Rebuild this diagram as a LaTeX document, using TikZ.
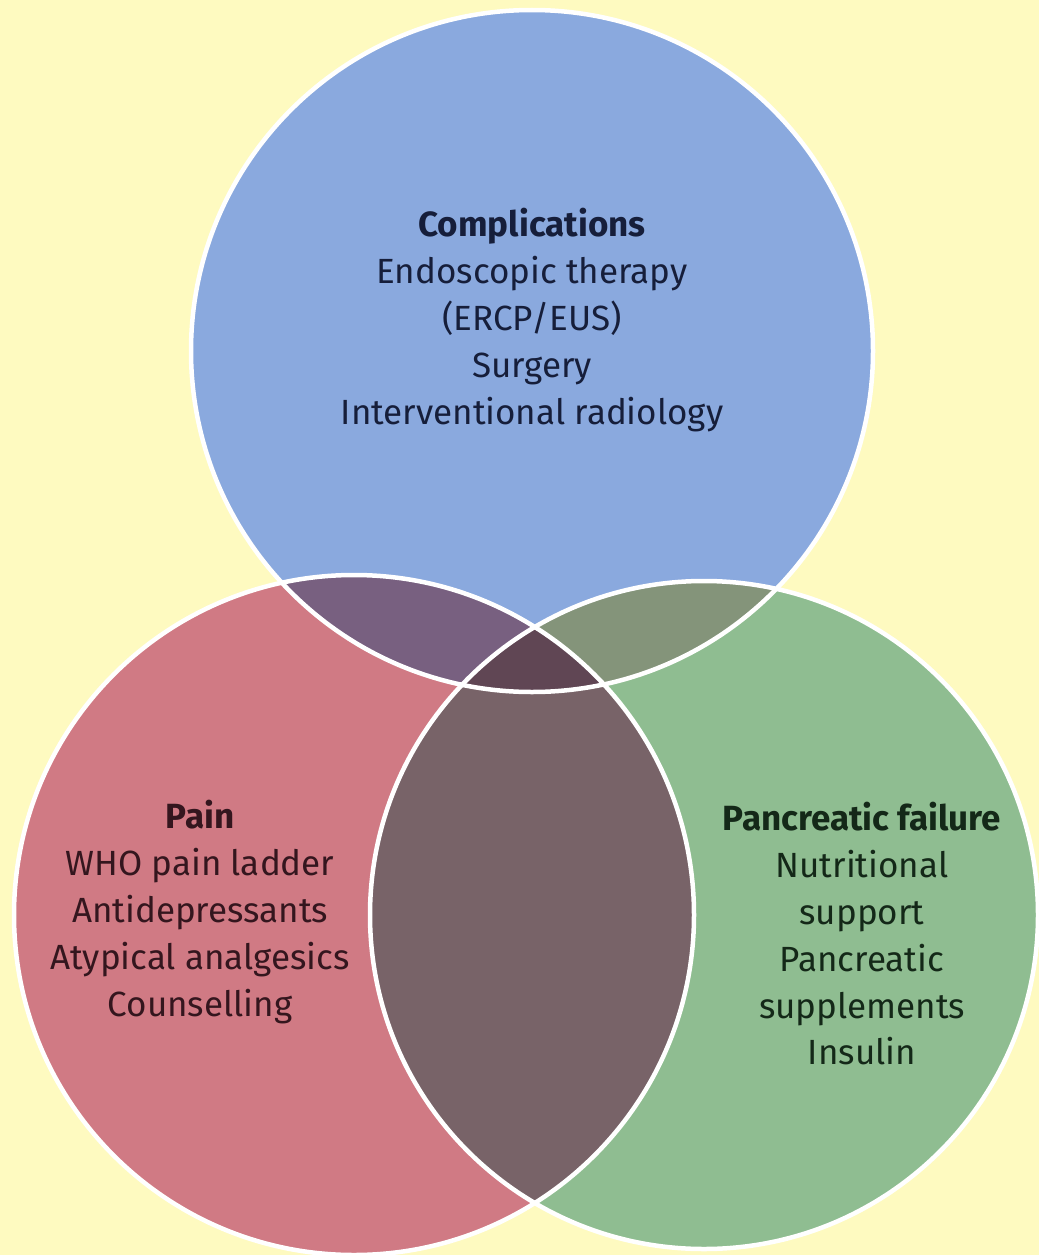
\documentclass[tikz,border=0pt]{standalone}
\usepackage{fontspec}
\setmainfont{Fira Sans}
\begin{document}
\begin{tikzpicture}[x=1pt,y=-1pt,
  lbl/.style={align=center,inner sep=0pt,font=\fontsize{35}{46.8}\selectfont},
  ring/.style={draw=white,line width=4.5pt}]
\definecolor{bgyel}{RGB}{254,250,192}
\definecolor{cblue}{RGB}{138,169,222}
\definecolor{cred}{RGB}{208,122,132}
\definecolor{cgreen}{RGB}{143,189,145}
\definecolor{cbr}{RGB}{120,96,128}
\definecolor{cbg}{RGB}{132,148,122}
\definecolor{crg}{RGB}{120,99,104}
\definecolor{cmid}{RGB}{96,70,84}
\definecolor{tblue}{RGB}{22,30,58}
\definecolor{tred}{RGB}{52,22,30}
\definecolor{tgreen}{RGB}{20,40,24}
% background
\fill[bgyel] (0,0) rectangle (1039,1255);
\path[use as bounding box] (0,0) rectangle (1039,1255);
% circle centres
\coordinate (cT) at (532,351);
\coordinate (cL) at (354,915);
\coordinate (cR) at (704,915);
\def\rT{341}\def\rL{340}\def\rR{334}
% single sets
\fill[cblue] (cT) circle[radius=\rT];
\fill[cred] (cL) circle[radius=\rL];
\fill[cgreen] (cR) circle[radius=\rR];
% pairwise overlaps
\begin{scope}
  \clip (cT) circle[radius=\rT];
  \fill[cbr] (cL) circle[radius=\rL];
  \fill[cbg] (cR) circle[radius=\rR];
\end{scope}
\begin{scope}
  \clip (cL) circle[radius=\rL];
  \fill[crg] (cR) circle[radius=\rR];
\end{scope}
% triple overlap
\begin{scope}
  \clip (cT) circle[radius=\rT];
  \clip (cL) circle[radius=\rL];
  \fill[cmid] (cR) circle[radius=\rR];
\end{scope}
% white outlines
\draw[ring] (cT) circle[radius=\rT];
\draw[ring] (cL) circle[radius=\rL];
\draw[ring] (cR) circle[radius=\rR];
% labels
\node[lbl,text=tblue] (comp) at (532,320) {\textbf{Complications}\\Endoscopic therapy\\(ERCP/EUS)\\Surgery\\Interventional radiology};
\node[lbl,text=tred] (pain) at (200,912) {\textbf{Pain}\\WHO pain ladder\\Antidepressants\\Atypical analgesics\\Counselling};
\node[lbl,text=tgreen] (panc) at (862,934) {\textbf{Pancreatic failure}\\Nutritional\\support\\Pancreatic\\supplements\\Insulin};
\end{tikzpicture}
\end{document}
